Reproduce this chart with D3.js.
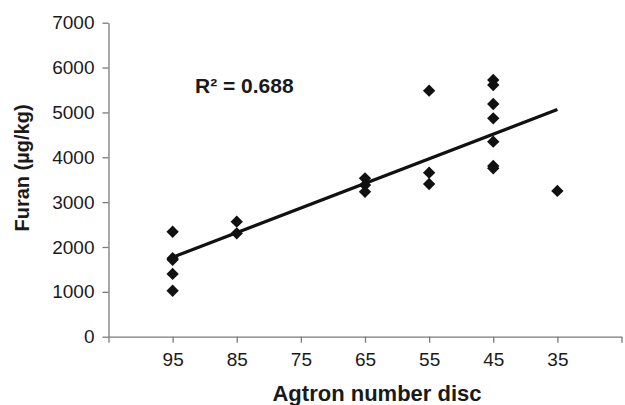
<!DOCTYPE html>
<html>
<head>
<meta charset="utf-8">
<script src="https://cdn.jsdelivr.net/npm/d3@7"></script>
<style>
  body { margin: 0; background: #fff; }
  svg { display: block; font-family: Arial, "Liberation Sans", sans-serif; }
</style>
</head>
<body>
<div id="chart"></div>
<script>
// ----------------------------------------
// DATA
// ----------------------------------------
const agtron = [95, 95, 95, 95, 95, 85, 85, 65, 65, 65, 55, 55, 55, 45, 45, 45, 45, 45, 45, 45, 35];
const furan  = [2340, 1750, 1715, 1400, 1025, 2565, 2305, 3530, 3380, 3230, 5484, 3656, 3404, 5722, 5611, 5187, 4868, 4347, 3805, 3754, 3250];
const xTicks = [95, 85, 75, 65, 55, 45, 35];
const yTicks = [0, 1000, 2000, 3000, 4000, 5000, 6000, 7000];

const points = agtron.map((a, i) => ({ x: a, y: furan[i] }));

// least squares trendline
const mx = d3.mean(points, d => d.x), my = d3.mean(points, d => d.y);
const slope = d3.sum(points, d => (d.x - mx) * (d.y - my)) / d3.sum(points, d => (d.x - mx) ** 2);
const trend = [95, 35].map(a => ({ x: a, y: my + slope * (a - mx) }));

// ----------------------------------------
// SETUP
// ----------------------------------------
const width = 625, height = 405;
const axisColor = "#7a7a7a";

const svg = d3.select("#chart")
  .append("svg")
  .attr("width", width)
  .attr("height", height);

const x = d3.scaleLinear().domain([105, 25]).range([108.5, 621.5]);
const y = d3.scaleLinear().domain([0, 7000]).range([336.7, 22.7]);

// ----------------------------------------
// AXES
// ----------------------------------------
const gx = svg.append("g")
  .attr("transform", `translate(0,${y(0)})`)
  .call(d3.axisBottom(x).tickValues([105, ...xTicks, 25]).tickSizeInner(6).tickSizeOuter(0).tickPadding(10)
    .tickFormat(d => xTicks.includes(d) ? d : ""));

const gy = svg.append("g")
  .attr("transform", `translate(${x(105)},0)`)
  .call(d3.axisLeft(y).tickValues(yTicks).tickFormat(d3.format("d")).tickSizeInner(6).tickSizeOuter(0).tickPadding(8));

[gx, gy].forEach(g => {
  g.select(".domain").attr("stroke", axisColor).attr("stroke-width", 1.3);
  g.selectAll(".tick line").attr("stroke", axisColor).attr("stroke-width", 1.3);
  g.selectAll(".tick text")
    .attr("fill", "#1a1a1a")
    .style("font-size", "19px")
    .style("font-family", "Arial, 'Liberation Sans', sans-serif");
});

svg.append("text")
  .attr("x", 377)
  .attr("y", 401)
  .attr("text-anchor", "middle")
  .attr("fill", "#1a1a1a")
  .style("font-size", "22px")
  .style("font-weight", "bold")
  .text("Agtron number disc");

svg.append("text")
  .attr("transform", "rotate(-90)")
  .attr("x", -168)
  .attr("y", 29)
  .attr("text-anchor", "middle")
  .attr("fill", "#1a1a1a")
  .style("font-size", "20px")
  .style("font-weight", "bold")
  .text("Furan (µg/kg)");

// ----------------------------------------
// TRENDLINE + POINTS
// ----------------------------------------
svg.append("path")
  .datum(trend)
  .attr("fill", "none")
  .attr("stroke", "#111")
  .attr("stroke-width", 3.2)
  .attr("d", d3.line().x(d => x(d.x)).y(d => y(d.y)));

const diamond = d3.symbol().type(d3.symbolSquare).size(76);

svg.selectAll(".pt")
  .data(points)
  .enter()
  .append("path")
  .attr("class", "pt")
  .attr("d", diamond)
  .attr("transform", d => `translate(${x(d.x)},${y(d.y)}) rotate(45)`)
  .attr("fill", "#111");

svg.append("text")
  .attr("x", 195)
  .attr("y", 93)
  .attr("fill", "#1a1a1a")
  .style("font-size", "21px")
  .style("font-weight", "bold")
  .text("R² = 0.688");
</script>
</body>
</html>
